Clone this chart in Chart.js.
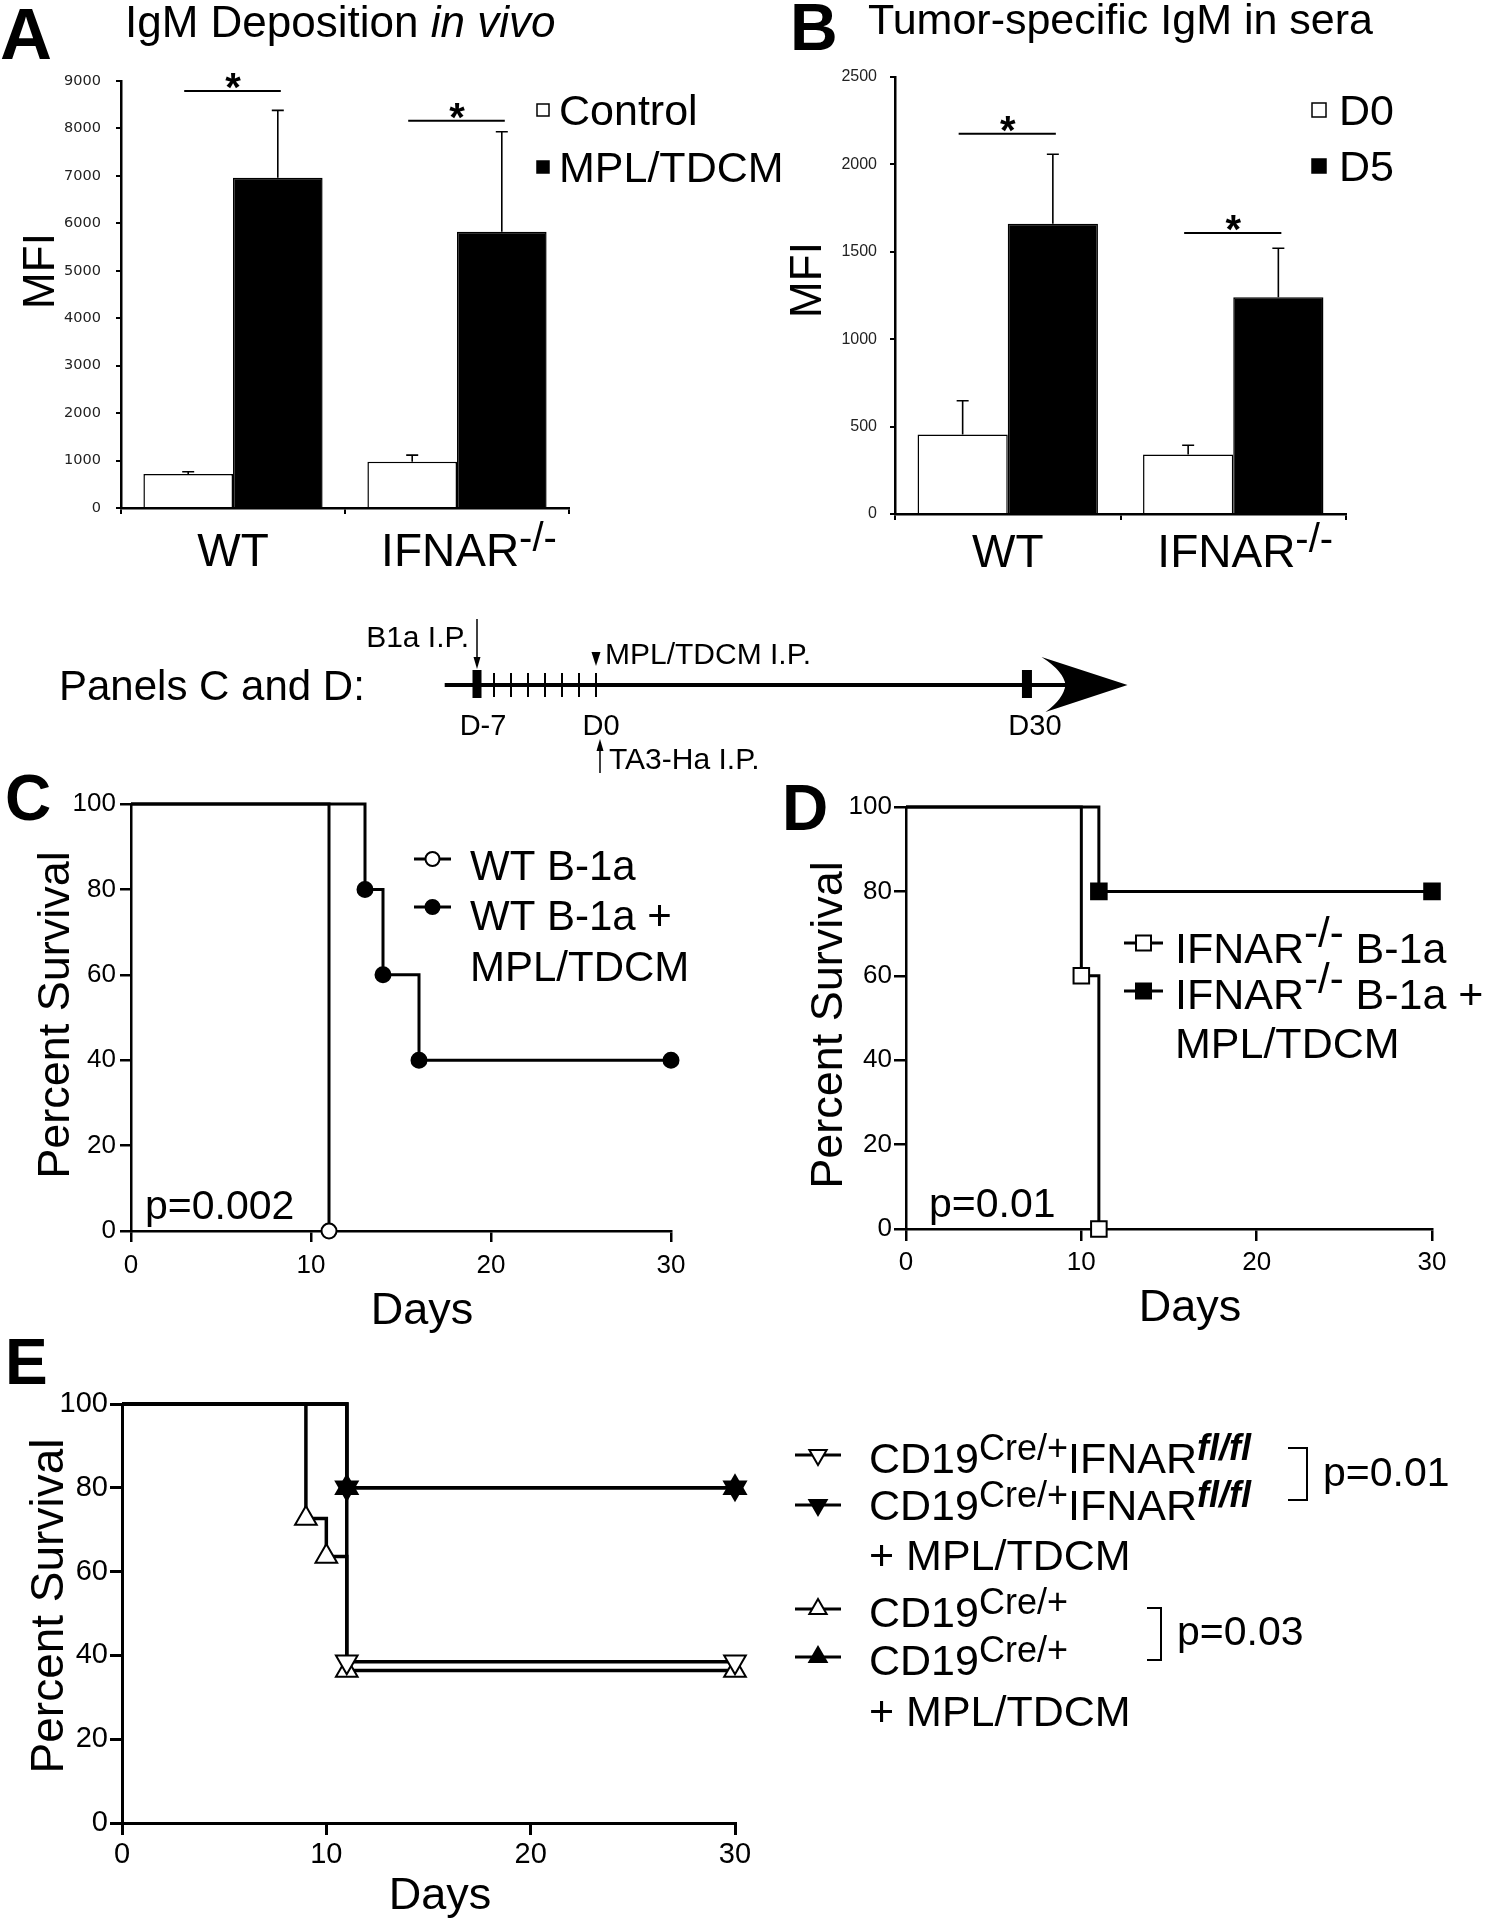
<!DOCTYPE html>
<html lang="en">
<head>
<meta charset="UTF-8">
<title>IgM deposition and survival</title>
<script src="https://cdn.jsdelivr.net/npm/chart.js"></script>
<style>
  body { margin: 0; background: #fff; }
  #fig { position: relative; width: 1487px; height: 1920px; background: #fff; }
  #fig canvas { position: absolute; left: 0; top: 0; }
</style>
</head>
<body>
<div id="fig">
  <canvas id="chartA" width="1487" height="1920"></canvas>
  <canvas id="chartB" width="1487" height="1920"></canvas>
  <canvas id="chartT" width="1487" height="1920"></canvas>
  <canvas id="chartC" width="1487" height="1920"></canvas>
  <canvas id="chartD" width="1487" height="1920"></canvas>
  <canvas id="chartE" width="1487" height="1920"></canvas>
</div>
<script>
// ---- data ----
const groups = ['WT', 'IFNAR-/-'];

// A: IgM deposition in vivo (MFI), bar top + upper error
const igmControl = [715, 975];
const igmControlErr = [765, 1115];
const igmMpl = [6960, 5820];
const igmMplErr = [8380, 7930];
const igmSig = [8790, 8160];
const igmTicks = [0, 1000, 2000, 3000, 4000, 5000, 6000, 7000, 8000, 9000];

// B: tumor-specific IgM in sera (MFI)
const seraD0 = [455, 340];
const seraD0Err = [648, 393];
const seraD5 = [1660, 1240];
const seraD5Err = [2058, 1520];
const seraSig = [2176, 1608];
const seraTicks = [0, 500, 1000, 1500, 2000, 2500];

// timeline (days)
const tlDays = [-7, -6, -5, -4, -3, -2, -1, 0];
const tlEnd = 30;
const tlCompress = 0.845; // schematic: days after D0 drawn shorter

// survival axes
const survXTicks = [0, 10, 20, 30];
const survYTicks = [0, 20, 40, 60, 80, 100];

// C
const wtDays = [0, 11];
const wtSurv = [100, 0];
const wtMplDays = [0, 13, 14, 16, 30];
const wtMplSurv = [100, 80, 60, 40, 40];
// D
const koDays = [0, 10, 11];
const koSurv = [100, 60, 0];
const koMplDays = [0, 11, 30];
const koMplSurv = [100, 80, 80];
// E
const flDays = [0, 11, 30];
const flSurv = [100, 38.5, 38.5];
const flMplDays = [0, 11, 30];
const flMplSurv = [100, 80, 80];
const creDays = [0, 9, 10, 11, 30];
const creSurv = [100, 72.7, 63.6, 36.4, 36.4];
const creMplDays = [0, 11, 30];
const creMplSurv = [100, 80, 80];

// ---- helpers ----
const W = 1487, H = 1920;
const SANS = '"Liberation Sans", Arial, Helvetica, sans-serif';

function fontAvailable(name) {
  const c = document.createElement('canvas').getContext('2d');
  const probe = 'MPL/TDCM 0123456789';
  c.font = '40px monospace';
  const a = c.measureText(probe).width;
  c.font = '40px "' + name + '", monospace';
  const b = c.measureText(probe).width;
  return Math.abs(a - b) > 0.5;
}
const NARROW_OK = fontAvailable('Liberation Sans Narrow');
const narrowTick = NARROW_OK ? {family: '"Liberation Sans Narrow", ' + SANS, size: 28} : {family: SANS, size: 26};

function font(px, style) { return (style ? style + ' ' : '') + px + 'px ' + SANS; }

function put(ctx, s, x, y, f, align) {
  ctx.font = f;
  ctx.textAlign = align || 'left';
  ctx.textBaseline = 'alphabetic';
  ctx.fillStyle = '#000';
  ctx.fillText(s, x, y);
}
// runs: [text, font, rise]
function runsWidth(ctx, runs) {
  let w = 0;
  runs.forEach(r => { ctx.font = r[1]; w += ctx.measureText(r[0]).width; });
  return w;
}
function putRuns(ctx, runs, x, y) {
  ctx.textAlign = 'left';
  ctx.textBaseline = 'alphabetic';
  ctx.fillStyle = '#000';
  runs.forEach(r => {
    ctx.font = r[1];
    ctx.fillText(r[0], x, y - (r[2] || 0));
    x += ctx.measureText(r[0]).width;
  });
  return x;
}
function putRotated(ctx, s, cx, cy, f) {
  ctx.save();
  ctx.translate(cx, cy);
  ctx.rotate(-Math.PI / 2);
  ctx.font = f;
  ctx.textAlign = 'center';
  ctx.textBaseline = 'middle';
  ctx.fillStyle = '#000';
  ctx.fillText(s, 0, 0);
  ctx.restore();
}
function mark(ctx, style, x, y, r, filled, rot) {
  ctx.save();
  ctx.translate(x, y);
  if (rot) ctx.rotate(rot * Math.PI / 180);
  ctx.beginPath();
  if (style === 'circle') ctx.arc(0, 0, r, 0, Math.PI * 2);
  else if (style === 'rect') ctx.rect(-r, -r, 2 * r, 2 * r);
  else {
    ctx.moveTo(0, -r);
    ctx.lineTo(r * 0.866, r * 0.5);
    ctx.lineTo(-r * 0.866, r * 0.5);
    ctx.closePath();
  }
  ctx.fillStyle = filled ? '#000' : '#fff';
  ctx.fill();
  ctx.lineWidth = 2;
  ctx.strokeStyle = '#000';
  ctx.stroke();
  ctx.restore();
}
function legendLine(ctx, x0, x1, y, style, r, filled, rot, lw) {
  ctx.save();
  ctx.strokeStyle = '#000';
  ctx.lineWidth = lw;
  ctx.beginPath();
  ctx.moveTo(x0, y);
  ctx.lineTo(x1, y);
  ctx.stroke();
  ctx.restore();
  mark(ctx, style, (x0 + x1) / 2, y, r, filled, rot);
}
function squareKey(ctx, x, y, s, filled) {
  ctx.save();
  ctx.fillStyle = filled ? '#000' : '#fff';
  ctx.fillRect(x - s / 2, y - s / 2, s, s);
  ctx.strokeStyle = '#000';
  ctx.lineWidth = 1.5;
  ctx.strokeRect(x - s / 2, y - s / 2, s, s);
  ctx.restore();
}

// ---- bar chart pieces ----
const errorBars = {
  id: 'errorBars',
  afterDatasetsDraw(chart) {
    const ctx = chart.ctx, ys = chart.scales.y;
    ctx.save();
    ctx.strokeStyle = '#000';
    ctx.lineWidth = 1.6;
    chart.data.datasets.forEach((ds, i) => {
      chart.getDatasetMeta(i).data.forEach((bar, j) => {
        const top = ys.getPixelForValue(ds.data[j]);
        const e = ys.getPixelForValue(ds.errTop[j]);
        ctx.beginPath();
        ctx.moveTo(bar.x, top);
        ctx.lineTo(bar.x, e);
        ctx.moveTo(bar.x - 6, e);
        ctx.lineTo(bar.x + 6, e);
        ctx.stroke();
      });
    });
    ctx.restore();
  }
};

const sigBars = {
  id: 'sigBars',
  afterDatasetsDraw(chart, args, opts) {
    const ctx = chart.ctx, ys = chart.scales.y;
    const a = chart.getDatasetMeta(0).data, b = chart.getDatasetMeta(1).data;
    opts.values.forEach((v, j) => {
      const y = ys.getPixelForValue(v);
      ctx.save();
      ctx.strokeStyle = '#000';
      ctx.lineWidth = 2;
      ctx.beginPath();
      ctx.moveTo(a[j].x - 4, y);
      ctx.lineTo(b[j].x + 3, y);
      ctx.stroke();
      ctx.restore();
      put(ctx, '*', (a[j].x + b[j].x) / 2, y + 10, font(40, 'bold'), 'center');
    });
  }
};

function barXLabels(chart, baseline) {
  const ctx = chart.ctx, xs = chart.scales.x;
  groups.forEach((g, i) => {
    const parts = g.split('-/-');
    const runs = parts.length > 1 ? [[parts[0], font(46)], ['-/-', font(40), 15]] : [[g, font(46)]];
    const w = runsWidth(ctx, runs);
    const cx = xs.getPixelForTick(i) + (parts.length > 1 ? 12 : 0);
    putRuns(ctx, runs, cx - w / 2, baseline);
  });
}

function barOptions(rect, ticks, tickFont, pad, sig) {
  const yW = 80, xH = 12;
  return {
    responsive: false, animation: false, events: [],
    layout: {padding: {left: rect.l - yW, top: rect.t, right: W - rect.r, bottom: H - rect.b - xH}},
    datasets: {bar: {categoryPercentage: 0.8, barPercentage: 1.0}},
    plugins: {legend: {display: false}, tooltip: {enabled: false}, sigBars: {values: sig}},
    scales: {
      x: {
        grid: {drawOnChartArea: false, drawTicks: true, tickLength: 6, color: '#000', lineWidth: 2, offset: true},
        border: {color: '#000', width: 2.5},
        ticks: {display: false},
        afterFit: s => { s.height = xH; }
      },
      y: {
        min: ticks[0], max: ticks[ticks.length - 1],
        afterBuildTicks: s => { s.ticks = ticks.map(v => ({value: v})); },
        grid: {drawOnChartArea: false, tickLength: 5, color: '#000', lineWidth: 2},
        border: {color: '#000', width: 2.5},
        ticks: {font: tickFont, color: '#222', padding: pad, callback: v => String(v)},
        afterFit: s => { s.width = yW; }
      }
    }
  };
}

// ---- A ----
new Chart(document.getElementById('chartA'), {
  type: 'bar',
  data: {
    labels: groups,
    datasets: [
      {label: 'Control', data: igmControl, errTop: igmControlErr, backgroundColor: '#fff', borderColor: '#000', borderWidth: 1.5},
      {label: 'MPL/TDCM', data: igmMpl, errTop: igmMplErr, backgroundColor: '#000', borderColor: '#000', borderWidth: 1.5}
    ]
  },
  options: barOptions({l: 121, r: 569, t: 81, b: 508}, igmTicks, {family: '"DejaVu Sans", ' + SANS, size: 14.5}, 15, igmSig),
  plugins: [errorBars, sigBars, {
    id: 'decorA',
    afterDraw(chart) {
      const ctx = chart.ctx;
      put(ctx, 'A', 0, 59, font(72, 'bold'));
      const x = putRuns(ctx, [['IgM Deposition ', font(44)]], 125, 37);
      putRuns(ctx, [['in vivo', font(44, 'italic')]], x, 37);
      putRotated(ctx, 'MFI', 42, 271, font(44));
      barXLabels(chart, 566);
      squareKey(ctx, 543, 110, 12, false);
      put(ctx, 'Control', 559, 125, font(43));
      squareKey(ctx, 543, 167, 12, true);
      put(ctx, 'MPL/TDCM', 559, 182, font(43));
    }
  }]
});

// ---- B ----
new Chart(document.getElementById('chartB'), {
  type: 'bar',
  data: {
    labels: groups,
    datasets: [
      {label: 'D0', data: seraD0, errTop: seraD0Err, backgroundColor: '#fff', borderColor: '#000', borderWidth: 1.5},
      {label: 'D5', data: seraD5, errTop: seraD5Err, backgroundColor: '#000', borderColor: '#000', borderWidth: 1.5}
    ]
  },
  options: barOptions({l: 895, r: 1346, t: 77, b: 514}, seraTicks, {family: SANS, size: 16}, 13, seraSig),
  plugins: [errorBars, sigBars, {
    id: 'decorB',
    afterDraw(chart) {
      const ctx = chart.ctx;
      put(ctx, 'B', 790, 50, font(66, 'bold'));
      put(ctx, 'Tumor-specific IgM in sera', 868, 34, font(43));
      putRotated(ctx, 'MFI', 809, 280, font(44));
      barXLabels(chart, 567);
      squareKey(ctx, 1319, 110, 14, false);
      put(ctx, 'D0', 1339, 125, font(43));
      squareKey(ctx, 1319, 166, 14, true);
      put(ctx, 'D5', 1339, 181, font(43));
    }
  }]
});

// ---- timeline ----
new Chart(document.getElementById('chartT'), {
  type: 'scatter',
  data: {datasets: [{data: []}]},
  options: {
    responsive: false, animation: false, events: [],
    layout: {padding: {left: 426, right: W - 1191, top: 650, bottom: H - 720}},
    plugins: {legend: {display: false}, tooltip: {enabled: false}},
    scales: {x: {display: false, min: -10, max: 35}, y: {display: false, min: -1, max: 1}}
  },
  plugins: [{
    id: 'timeline',
    afterDraw(chart) {
      const ctx = chart.ctx, xs = chart.scales.x;
      const y0 = chart.scales.y.getPixelForValue(0);
      const px = d => xs.getPixelForValue(d > 0 ? d * tlCompress : d);
      const x0 = px(tlDays[0] - 1.9), tip = px(tlEnd + 7);
      ctx.save();
      ctx.strokeStyle = '#000';
      ctx.fillStyle = '#000';
      ctx.lineWidth = 4;
      ctx.beginPath();
      ctx.moveTo(x0, y0);
      ctx.lineTo(tip - 60, y0);
      ctx.stroke();
      // arrowhead
      ctx.beginPath();
      ctx.moveTo(tip, y0);
      ctx.lineTo(tip - 86, y0 - 28);
      ctx.quadraticCurveTo(tip - 64, y0 - 14, tip - 62, y0);
      ctx.quadraticCurveTo(tip - 64, y0 + 14, tip - 82, y0 + 27);
      ctx.closePath();
      ctx.fill();
      // day ticks
      tlDays.forEach((d, i) => {
        const x = px(d);
        if (i === 0) ctx.fillRect(x - 4.5, y0 - 15, 9, 28);
        else ctx.fillRect(x - 1, y0 - 12, 2, 24);
      });
      const xe = px(tlEnd);
      ctx.fillRect(xe - 5, y0 - 15, 10, 28);
      // labels
      put(ctx, 'D-7', px(tlDays[0]) + 6, y0 + 50, font(29), 'center');
      put(ctx, 'D0', px(0) + 5, y0 + 50, font(29), 'center');
      put(ctx, 'D30', xe + 8, y0 + 50, font(29), 'center');
      put(ctx, 'Panels C and D:', 59, y0 + 15, font(42));
      // B1a arrow
      const xb = px(tlDays[0]);
      ctx.lineWidth = 1.5;
      ctx.beginPath();
      ctx.moveTo(xb, y0 - 66);
      ctx.lineTo(xb, y0 - 26);
      ctx.stroke();
      ctx.beginPath();
      ctx.moveTo(xb - 3.5, y0 - 28);
      ctx.lineTo(xb + 3.5, y0 - 28);
      ctx.lineTo(xb, y0 - 16);
      ctx.closePath();
      ctx.fill();
      put(ctx, 'B1a I.P.', xb - 8, y0 - 38, font(30), 'right');
      // MPL/TDCM marker
      const xm = px(0);
      ctx.beginPath();
      ctx.moveTo(xm - 4.5, y0 - 33);
      ctx.lineTo(xm + 4.5, y0 - 33);
      ctx.lineTo(xm, y0 - 19);
      ctx.closePath();
      ctx.fill();
      put(ctx, 'MPL/TDCM I.P.', xm + 9, y0 - 21, font(30));
      // TA3-Ha arrow
      const xt = xm + 4;
      ctx.beginPath();
      ctx.moveTo(xt, y0 + 88);
      ctx.lineTo(xt, y0 + 64);
      ctx.stroke();
      ctx.beginPath();
      ctx.moveTo(xt - 3.5, y0 + 66);
      ctx.lineTo(xt + 3.5, y0 + 66);
      ctx.lineTo(xt, y0 + 54);
      ctx.closePath();
      ctx.fill();
      put(ctx, 'TA3-Ha I.P.', xt + 9, y0 + 84, font(30));
      ctx.restore();
    }
  }]
});

// ---- survival charts ----
function survSet(days, surv, style, filled, r, lw, rot) {
  return {
    data: days.map((d, i) => ({x: d, y: surv[i]})),
    showLine: true, stepped: true, fill: false,
    borderColor: '#000', borderWidth: lw,
    pointStyle: style, pointRotation: rot || 0,
    pointRadius: days.map((d, i) => i === 0 ? 0 : r),
    pointBackgroundColor: filled ? '#000' : '#fff',
    pointBorderColor: '#000', pointBorderWidth: 2,
    clip: false
  };
}

function survOptions(rect, tickFont, lw, tl, padX, padY) {
  const yW = 70, xH = 60;
  return {
    responsive: false, animation: false, events: [],
    layout: {padding: {left: rect.l - yW, top: rect.t, right: W - rect.r, bottom: H - rect.b - xH}},
    plugins: {legend: {display: false}, tooltip: {enabled: false}},
    scales: {
      x: {
        type: 'linear', min: 0, max: 30,
        afterBuildTicks: s => { s.ticks = survXTicks.map(v => ({value: v})); },
        grid: {drawOnChartArea: false, tickLength: tl, color: '#000', lineWidth: lw},
        border: {color: '#000', width: lw},
        ticks: {font: tickFont, color: '#000', padding: padX, maxRotation: 0},
        afterFit: s => { s.height = xH; }
      },
      y: {
        type: 'linear', min: 0, max: 100,
        afterBuildTicks: s => { s.ticks = survYTicks.map(v => ({value: v})); },
        grid: {drawOnChartArea: false, tickLength: tl, color: '#000', lineWidth: lw},
        border: {color: '#000', width: lw},
        ticks: {font: tickFont, color: '#000', padding: padY},
        afterFit: s => { s.width = yW; }
      }
    }
  };
}

// C
new Chart(document.getElementById('chartC'), {
  type: 'scatter',
  data: {datasets: [
    survSet(wtDays, wtSurv, 'circle', false, 7.5, 3),
    survSet(wtMplDays, wtMplSurv, 'circle', true, 7.5, 3)
  ]},
  options: survOptions({l: 131, r: 671, t: 804, b: 1231}, narrowTick, 2.5, 11, 8, 4),
  plugins: [{
    id: 'decorC',
    afterDraw(chart) {
      const ctx = chart.ctx;
      put(ctx, 'C', 5, 820, font(64, 'bold'));
      putRotated(ctx, 'Percent Survival', 57, 1015, font(45));
      put(ctx, 'Days', 422, 1324, font(45), 'center');
      put(ctx, 'p=0.002', 145, 1219, font(41));
      legendLine(ctx, 414, 451, 859, 'circle', 7, false, 0, 3);
      put(ctx, 'WT B-1a', 470, 880, font(42));
      legendLine(ctx, 414, 451, 907, 'circle', 7, true, 0, 3);
      put(ctx, 'WT B-1a +', 470, 930, font(42));
      put(ctx, 'MPL/TDCM', 470, 981, font(42));
    }
  }]
});

// D
new Chart(document.getElementById('chartD'), {
  type: 'scatter',
  data: {datasets: [
    survSet(koDays, koSurv, 'rect', false, 11, 3),
    survSet(koMplDays, koMplSurv, 'rect', true, 11, 3)
  ]},
  options: survOptions({l: 906, r: 1432, t: 807, b: 1229}, narrowTick, 2.5, 12, 6, 2),
  plugins: [{
    id: 'decorD',
    afterDraw(chart) {
      const ctx = chart.ctx;
      put(ctx, 'D', 782, 830, font(64, 'bold'));
      putRotated(ctx, 'Percent Survival', 830, 1025, font(45));
      put(ctx, 'Days', 1190, 1321, font(45), 'center');
      put(ctx, 'p=0.01', 929, 1217, font(41));
      const sup = font(42);
      legendLine(ctx, 1124, 1163, 943, 'rect', 7.5, false, 0, 3);
      putRuns(ctx, [['IFNAR', font(43)], ['-/-', sup, 16], [' B-1a', font(43)]], 1175, 963);
      legendLine(ctx, 1124, 1163, 991, 'rect', 7.5, true, 0, 3);
      putRuns(ctx, [['IFNAR', font(43)], ['-/-', sup, 16], [' B-1a +', font(43)]], 1175, 1009);
      put(ctx, 'MPL/TDCM', 1175, 1058, font(43));
    }
  }]
});

// E
new Chart(document.getElementById('chartE'), {
  type: 'scatter',
  data: {datasets: [
    survSet(flDays, flSurv, 'triangle', false, 12.5, 3.5, 180),
    survSet(flMplDays, flMplSurv, 'triangle', true, 12.5, 3.5, 180),
    survSet(creDays, creSurv, 'triangle', false, 12.5, 3.5),
    survSet(creMplDays, creMplSurv, 'triangle', true, 12.5, 3.5)
  ]},
  options: survOptions({l: 122, r: 735, t: 1404, b: 1823}, {family: SANS, size: 29}, 3, 12, 3, 2),
  plugins: [{
    id: 'decorE',
    afterDraw(chart) {
      const ctx = chart.ctx;
      put(ctx, 'E', 5, 1384, font(64, 'bold'));
      putRotated(ctx, 'Percent Survival', 50, 1606, font(46));
      put(ctx, 'Days', 440, 1909, font(45), 'center');
      const main = font(43), sup = font(36), supI = font(36, 'italic bold');
      const flRuns = [['CD19', main], ['Cre/+', sup, 13], ['IFNAR', main], ['fl/fl', supI, 13]];
      const creRuns = [['CD19', main], ['Cre/+', sup, 13]];
      legendLine(ctx, 795, 841, 1455, 'triangle', 10, false, 180, 3);
      putRuns(ctx, flRuns, 869, 1473);
      legendLine(ctx, 795, 841, 1505, 'triangle', 10, true, 180, 3);
      putRuns(ctx, flRuns, 869, 1520);
      put(ctx, '+ MPL/TDCM', 869, 1570, main);
      legendLine(ctx, 795, 841, 1609, 'triangle', 10, false, 0, 3);
      putRuns(ctx, creRuns, 869, 1627);
      legendLine(ctx, 795, 841, 1657, 'triangle', 10, true, 0, 3);
      putRuns(ctx, creRuns, 869, 1675);
      put(ctx, '+ MPL/TDCM', 869, 1726, main);
      // brackets
      ctx.save();
      ctx.strokeStyle = '#000';
      ctx.lineWidth = 2;
      ctx.beginPath();
      ctx.moveTo(1288, 1448); ctx.lineTo(1307, 1448); ctx.lineTo(1307, 1500); ctx.lineTo(1288, 1500);
      ctx.moveTo(1147, 1608); ctx.lineTo(1161, 1608); ctx.lineTo(1161, 1660); ctx.lineTo(1147, 1660);
      ctx.stroke();
      ctx.restore();
      put(ctx, 'p=0.01', 1323, 1486, font(41));
      put(ctx, 'p=0.03', 1177, 1645, font(41));
    }
  }]
});
</script>
</body>
</html>
